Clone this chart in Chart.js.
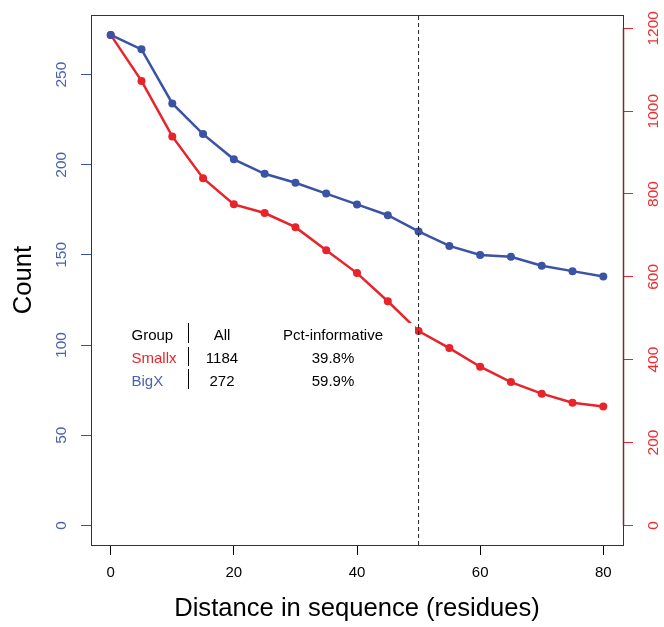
<!DOCTYPE html>
<html>
<head>
<meta charset="utf-8">
<script src="https://cdn.jsdelivr.net/npm/chart.js@4/dist/chart.umd.min.js"></script>
<style>
  html, body { margin: 0; padding: 0; background: #fff; }
  #chart { display: block; }
</style>
</head>
<body>
<canvas id="chart" width="664" height="627"></canvas>
<script>
// distance in sequence (residues)
const distances = [0, 5, 10, 15, 20, 25, 30, 35, 40, 45, 50, 55, 60, 65, 70, 75, 80]
// counts, BigX on the left axis, Smallx on the right axis
const bigX = [272, 264, 234, 217, 203, 195, 190, 184, 178, 172, 163, 155, 150, 149, 144, 141, 138]
const smallX = [1184, 1073, 939, 838, 775, 754, 720, 664, 609, 541, 469, 428, 383, 346, 318, 296, 287]
const cutoff = 50

const xTicks = [0, 20, 40, 60, 80]
const leftTicks = [0, 50, 100, 150, 200, 250]
const rightTicks = [0, 200, 400, 600, 800, 1000, 1200]

const tableHeader = ['Group', 'All', 'Pct-informative']
const tableGroups = ['Smallx', 'BigX']
const tableAll = ['1184', '272']
const tablePct = ['39.8%', '59.9%']

const COLORS = {
  blue: '#3A53A4',
  blueText: '#4A62AE',
  red: '#E8232A',
  redText: '#EE2C2C',
  axis: '#6E2E2E',
  box: '#333333',
  text: '#000000',
}
const FONT = '"Liberation Sans", Arial, Helvetica, sans-serif'

// R style: 4% padding round the data range
const pad = (lo, hi) => { const d = (hi - lo) * 0.04; return [lo - d, hi + d] }
const [xMin, xMax] = pad(0, 80)
const [yMin, yMax] = pad(0, 272)
const [y2Min, y2Max] = pad(0, 1184)

const fixedTicks = list => scale => { scale.ticks = list.map(v => ({ value: v })) }
const plain = v => String(v)

// box, right axis line, and the little summary table
const decor = {
  id: 'decor',
  beforeDatasetsDraw(chart) {
    const { ctx, chartArea: a, scales } = chart
    ctx.save()
    ctx.strokeStyle = COLORS.box
    ctx.lineWidth = 1
    ctx.strokeRect(Math.round(a.left) + 0.5, Math.round(a.top) + 0.5, Math.round(a.right - a.left), Math.round(a.bottom - a.top))
    const y2 = scales.y2
    ctx.strokeStyle = COLORS.axis
    ctx.lineWidth = 1.5
    ctx.beginPath()
    ctx.moveTo(Math.round(a.right) + 0.5, y2.getPixelForValue(rightTicks[0]))
    ctx.lineTo(Math.round(a.right) + 0.5, y2.getPixelForValue(rightTicks[rightTicks.length - 1]))
    ctx.stroke()
    ctx.restore()
  },
  afterDatasetsDraw(chart) {
    const { ctx } = chart
    ctx.save()
    ctx.fillStyle = '#fff'
    ctx.fillRect(120, 323, 295, 72)
    ctx.font = '15px ' + FONT
    ctx.textBaseline = 'alphabetic'
    const rows = [339.5, 363, 385.5]
    const colGroup = 131.5, colAll = 222, colPct = 333
    ctx.fillStyle = COLORS.text
    ctx.textAlign = 'left'
    ctx.fillText(tableHeader[0], colGroup, rows[0])
    ctx.textAlign = 'center'
    ctx.fillText(tableHeader[1], colAll, rows[0])
    ctx.fillText(tableHeader[2], colPct, rows[0])
    tableGroups.forEach((g, i) => {
      ctx.textAlign = 'left'
      ctx.fillStyle = i === 0 ? COLORS.red : COLORS.blueText
      ctx.fillText(g, colGroup, rows[i + 1])
      ctx.fillStyle = COLORS.text
      ctx.textAlign = 'center'
      ctx.fillText(tableAll[i], colAll, rows[i + 1])
      ctx.fillText(tablePct[i], colPct, rows[i + 1])
    })
    ctx.strokeStyle = COLORS.text
    ctx.lineWidth = 1
    ctx.beginPath()
    ;[[323, 343], [347, 366], [369, 389]].forEach(([t, b]) => { ctx.moveTo(188.5, t); ctx.lineTo(188.5, b) })
    ctx.stroke()
    ctx.restore()
  },
}

new Chart(document.getElementById('chart'), {
  type: 'line',
  data: {
    datasets: [
      {
        label: 'BigX',
        data: distances.map((x, i) => ({ x, y: bigX[i] })),
        yAxisID: 'y',
        borderColor: COLORS.blue,
        backgroundColor: COLORS.blue,
        borderWidth: 2.5,
        pointRadius: 4,
        pointBorderWidth: 0,
        order: 1,
      },
      {
        label: 'Smallx',
        data: distances.map((x, i) => ({ x, y: smallX[i] })),
        yAxisID: 'y2',
        borderColor: COLORS.red,
        backgroundColor: COLORS.red,
        borderWidth: 2.5,
        pointRadius: 4,
        pointBorderWidth: 0,
        order: 1,
      },
      {
        label: 'cutoff',
        data: [{ x: cutoff, y: yMin }, { x: cutoff, y: yMax }],
        yAxisID: 'y',
        borderColor: '#222',
        borderWidth: 1,
        borderDash: [4, 3],
        pointRadius: 0,
        order: 0,
      },
    ],
  },
  options: {
    responsive: false,
    animation: false,
    devicePixelRatio: 1,
    layout: { padding: { top: 13, left: 0, right: 0, bottom: 0 } },
    plugins: { legend: { display: false }, tooltip: { enabled: false } },
    elements: { line: { tension: 0 } },
    scales: {
      x: {
        type: 'linear',
        min: xMin,
        max: xMax,
        afterBuildTicks: fixedTicks(xTicks),
        afterFit: s => { s.height = 82 },
        border: { display: false },
        grid: { drawOnChartArea: false, tickLength: 10, color: '#000' },
        ticks: { callback: plain, color: COLORS.text, font: { family: FONT, size: 15 }, padding: 9, autoSkip: false, maxRotation: 0 },
        title: { display: true, text: 'Distance in sequence (residues)', color: COLORS.text, font: { family: FONT, size: 25.6 }, padding: { top: 0, bottom: 3 } },
      },
      y: {
        position: 'left',
        min: yMin,
        max: yMax,
        afterBuildTicks: fixedTicks(leftTicks),
        afterFit: s => { s.width = 91 },
        border: { display: false },
        grid: { drawOnChartArea: false, tickLength: 10, color: COLORS.blue },
        ticks: { callback: plain, color: COLORS.blueText, font: { family: FONT, size: 15.5 }, padding: 6, minRotation: 90, maxRotation: 90, crossAlign: 'center', autoSkip: false },
        title: { display: true, text: 'Count', color: COLORS.text, font: { family: FONT, size: 25.6 }, padding: { top: 8.5, bottom: 0 } },
      },
      y2: {
        position: 'right',
        min: y2Min,
        max: y2Max,
        afterBuildTicks: fixedTicks(rightTicks),
        afterFit: s => { s.width = 41 },
        border: { display: false },
        grid: { drawOnChartArea: false, tickLength: 10, color: COLORS.red },
        ticks: { callback: plain, color: COLORS.redText, font: { family: FONT, size: 15.5 }, padding: 3, minRotation: 90, maxRotation: 90, crossAlign: 'center', autoSkip: false },
      },
    },
  },
  plugins: [decor],
})
</script>
</body>
</html>
